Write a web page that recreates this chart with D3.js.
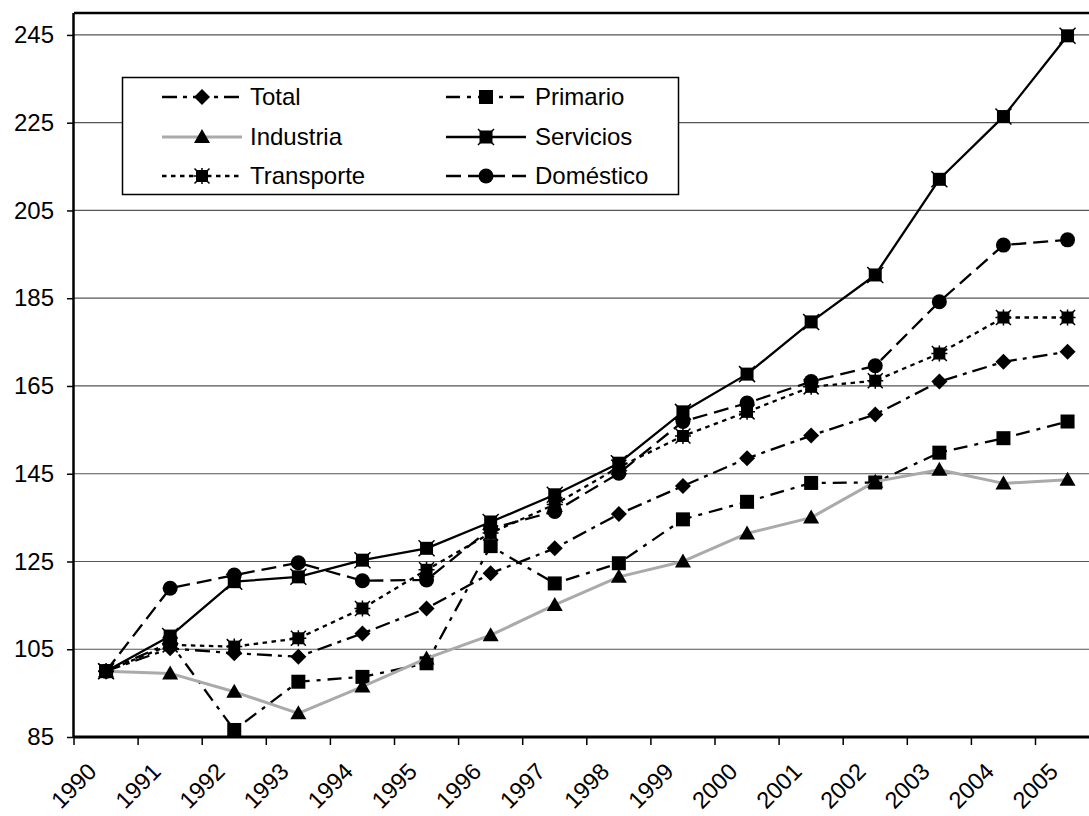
<!DOCTYPE html>
<html><head><meta charset="utf-8">
<script src="https://cdn.jsdelivr.net/npm/d3@7"></script>
<style>
html,body{margin:0;padding:0;background:#fff;overflow:hidden}
text{font-family:"Liberation Sans",Arial,sans-serif;fill:#000}
</style></head>
<body>
<svg id="chart" width="1089" height="816"></svg>
<script>
const years = ["1990","1991","1992","1993","1994","1995","1996","1997","1998","1999","2000","2001","2002","2003","2004","2005"];
const yTicks = [85,105,125,145,165,185,205,225,245];
const total      = [100,105.2,104.1,103.3,108.6,114.3,122.3,128.0,135.8,142.2,148.5,153.7,158.5,166.0,170.5,172.8];
const primario   = [100,106.5,86.6,97.6,98.7,101.8,128.5,120.0,124.6,134.6,138.6,142.9,143.0,149.8,153.1,156.9];
const industria  = [100,99.5,95.3,90.4,96.5,102.9,108.2,115.1,121.5,125.0,131.4,135.0,143.2,145.9,142.8,143.6];
const servicios  = [100,108.0,120.4,121.5,125.3,128.0,134.0,140.2,147.4,159.1,167.7,179.6,190.3,212.1,226.4,244.8];
const transporte = [100,106.0,105.6,107.5,114.3,123.1,131.5,138.0,146.5,153.6,159.1,164.8,166.2,172.4,180.6,180.6];
const domestico  = [100,118.9,121.9,124.7,120.6,120.8,132.5,136.4,145.1,156.9,161.1,166.0,169.6,184.2,197.1,198.3];
const seriesNames = ["Total","Primario","Industria","Servicios","Transporte","Doméstico"];

(function(){
const series = [
  {name:seriesNames[0], values:total,      marker:"diamond",  stroke:"#000", width:2.3, dash:"15,6,4,6"},
  {name:seriesNames[1], values:primario,   marker:"square",   stroke:"#000", width:2.3, dash:"14,7,4,7"},
  {name:seriesNames[2], values:industria,  marker:"triangle", stroke:"#aaaaaa", width:3, dash:null},
  {name:seriesNames[3], values:servicios,  marker:"servsq",   stroke:"#000", width:2.3, dash:null},
  {name:seriesNames[4], values:transporte, marker:"star",     stroke:"#000", width:2.3, dash:"4.5,4.5"},
  {name:seriesNames[5], values:domestico,  marker:"circle",   stroke:"#000", width:2.3, dash:"15,7"}
];

const svg = d3.select("#chart");
const pL = 74, pT = 13, pB = 737, pR = 74 + 16*64.1;

const x = d3.scaleBand().domain(years).range([pL, pR]).padding(0);
const y = d3.scaleLinear().domain([85,250]).range([pB, pT]);
const cx = d => x(d) + x.bandwidth()/2;

svg.append("g").selectAll("line").data(yTicks.filter(t=>t>85)).join("line")
  .attr("x1", pL).attr("x2", 1089).attr("y1", d=>y(d)).attr("y2", d=>y(d))
  .attr("stroke", "#555").attr("stroke-width", 1.2);

svg.append("line").attr("x1", pL).attr("x2", 1089).attr("y1", pT).attr("y2", pT)
  .attr("stroke","#000").attr("stroke-width",2.5);

const yAxis = d3.axisLeft(y).tickValues(yTicks).tickSize(7).tickPadding(13).tickFormat(d3.format("d"));
const gy = svg.append("g").attr("transform", `translate(${pL},0)`).call(yAxis);
gy.select(".domain").attr("stroke","#000").attr("stroke-width",2.5).attr("d", `M-0.5,${pB}V${pT}`);
gy.selectAll(".tick line").attr("stroke","#000").attr("stroke-width",1.5);
gy.selectAll(".tick text").style("font-size","24px").style("font-family",'"Liberation Sans",Arial,sans-serif').attr("fill","#000");

const xAxis = d3.axisBottom(x).tickSize(0).tickFormat("");
const gx = svg.append("g").attr("transform", `translate(0,${pB})`).call(xAxis);
gx.select(".domain").attr("stroke","#000").attr("stroke-width",3).attr("d", `M${pL},0H1089`);
const bounds = years.map(d => x(d));
svg.append("g").selectAll("line").data(bounds).join("line")
  .attr("x1", d=>d).attr("x2", d=>d).attr("y1", pB).attr("y2", pB+8)
  .attr("stroke","#000").attr("stroke-width",1.5);
svg.append("g").selectAll("text").data(years).join("text")
  .attr("transform", d => `translate(${cx(d)-8},${pB+36}) rotate(-45)`)
  .attr("text-anchor","end")
  .style("font-size","23.5px")
  .text(d=>d);

function drawMarker(g, type, px, py) {
  const k = "#000";
  if (type === "diamond") {
    g.append("path").attr("d", `M${px},${py-8}L${px+8},${py}L${px},${py+8}L${px-8},${py}Z`).attr("fill",k);
  } else if (type === "square") {
    g.append("rect").attr("x",px-7).attr("y",py-7).attr("width",14).attr("height",14).attr("fill",k);
  } else if (type === "triangle") {
    g.append("path").attr("d", `M${px},${py-8}L${px+8},${py+6}L${px-8},${py+6}Z`).attr("fill",k);
  } else if (type === "servsq") {
    g.append("rect").attr("x",px-6.5).attr("y",py-6.5).attr("width",13).attr("height",13).attr("fill",k);
    g.append("path").attr("d", `M${px-8},${py-8}L${px+8},${py+8}M${px+8},${py-8}L${px-8},${py+8}`).attr("stroke",k).attr("stroke-width",1.5);
  } else if (type === "star") {
    g.append("rect").attr("x",px-6).attr("y",py-6).attr("width",12).attr("height",12).attr("fill",k);
    g.append("path").attr("d", `M${px-7.5},${py-7.5}L${px+7.5},${py+7.5}M${px+7.5},${py-7.5}L${px-7.5},${py+7.5}M${px},${py-8}V${py+8}M${px-8},${py}H${px+8}`).attr("stroke",k).attr("stroke-width",1.5);
  } else if (type === "circle") {
    g.append("circle").attr("cx",px).attr("cy",py).attr("r",7.5).attr("fill",k);
  }
}

const line = d3.line().x((v,i)=>cx(years[i])).y(v=>y(v));
const plot = svg.append("g");
series.forEach(s => {
  const g = plot.append("g");
  const p = g.append("path").attr("d", line(s.values)).attr("fill","none")
    .attr("stroke", s.stroke).attr("stroke-width", s.width).attr("stroke-linejoin","round");
  if (s.dash) p.attr("stroke-dasharray", s.dash);
  s.values.forEach((v,i) => drawMarker(g, s.marker, cx(years[i]), y(v)));
});

const lg = svg.append("g");
lg.append("rect").attr("x",122.5).attr("y",77.5).attr("width",556).attr("height",117)
  .attr("fill","#fff").attr("stroke","#000").attr("stroke-width",1.5);
const rowsY = [97, 137, 176];
const cols = [{x0:162, x1:242, tx:250},{x0:446, x1:526, tx:535}];
const order = [0,2,4,1,3,5];
order.forEach((si, k) => {
  const s = series[si];
  const c = cols[Math.floor(k/3)];
  const ry = rowsY[k%3];
  const g = lg.append("g");
  const p = g.append("line").attr("x1",c.x0).attr("x2",c.x1).attr("y1",ry).attr("y2",ry)
    .attr("stroke",s.stroke).attr("stroke-width",s.width);
  if (s.dash) p.attr("stroke-dasharray", s.dash);
  drawMarker(g, s.marker, (c.x0+c.x1)/2, ry);
  g.append("text").attr("x",c.tx).attr("y",ry).attr("dy","0.35em").style("font-size","24px").text(s.name);
});
})();
</script>
</body></html>
